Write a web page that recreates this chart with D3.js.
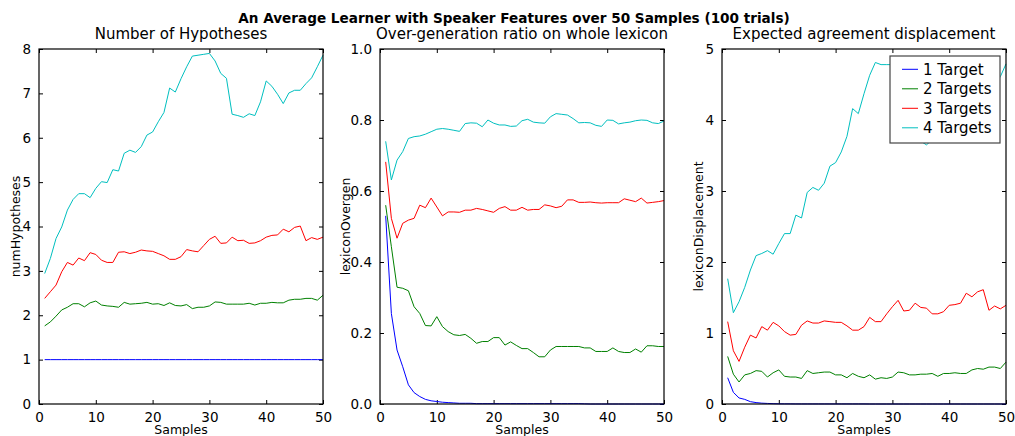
<!DOCTYPE html>
<html>
<head>
<meta charset="utf-8">
<script src="https://cdn.jsdelivr.net/npm/d3@7"></script>
<style>
  body { margin: 0; background: #fff; }
  svg { font-family: 'DejaVu Sans', sans-serif; }
</style>
</head>
<body>
<div id="chart"></div>
<script>
// sample index on the x axis
const samples = d3.range(1, 51)

const seriesNames = ['1 Target', '2 Targets', '3 Targets', '4 Targets']
const seriesColors = ['#0000ff', '#008000', '#ff0000', '#00bfbf']

// number of hypotheses
const hypT1 = new Array(50).fill(1)
const hypT2 = [1.76,1.85,1.98,2.12,2.18,2.26,2.26,2.19,2.28,2.32,2.23,2.21,2.20,2.18,2.29,2.25,2.26,2.27,2.29,2.25,
  2.26,2.22,2.28,2.22,2.21,2.24,2.15,2.18,2.18,2.21,2.30,2.29,2.25,2.25,2.25,2.25,2.27,2.23,2.27,2.27,
  2.29,2.28,2.28,2.34,2.36,2.36,2.38,2.38,2.34,2.45]
const hypT3 = [2.38,2.53,2.68,2.98,3.19,3.13,3.29,3.23,3.41,3.37,3.24,3.19,3.19,3.42,3.43,3.39,3.42,3.47,3.45,3.44,
  3.39,3.34,3.26,3.26,3.32,3.48,3.45,3.43,3.57,3.71,3.78,3.62,3.63,3.76,3.68,3.69,3.62,3.63,3.68,3.76,
  3.80,3.81,3.94,3.88,3.98,4.01,3.68,3.75,3.71,3.76]
const hypT4 = [2.94,3.28,3.73,3.99,4.37,4.61,4.74,4.74,4.65,4.86,5.01,4.99,5.28,5.25,5.65,5.72,5.67,5.80,6.06,6.13,
  6.36,6.57,7.12,7.03,7.33,7.60,7.84,7.86,7.88,7.90,7.73,7.45,7.34,6.53,6.50,6.46,6.54,6.50,6.81,7.28,
  7.16,6.98,6.77,7.01,7.07,7.07,7.22,7.35,7.60,7.86]

// over-generation ratio
const ovgT1 = [0.53,0.255,0.152,0.105,0.054,0.032,0.021,0.013,0.009,0.007,0.005,0.004,0.003,0.002,0.002,0.002,0.001,0.001,0.001,0.001,
  0.001,0.001,0.001,0.001,0.001,0.001,0.001,0.001,0.001,0.001,0.001,0.001,0.001,0.001,0.001,0.0005,0,0,0,0,
  0,0,0,0,0,0,0,0,0,0]
const ovgT2 = [0.56,0.443,0.329,0.326,0.319,0.274,0.255,0.221,0.220,0.246,0.218,0.204,0.195,0.193,0.196,0.185,0.171,0.176,0.176,0.187,
  0.187,0.166,0.175,0.165,0.156,0.156,0.145,0.133,0.133,0.152,0.162,0.162,0.162,0.162,0.162,0.158,0.158,0.148,0.148,0.148,
  0.158,0.148,0.145,0.145,0.155,0.146,0.164,0.164,0.162,0.162]
const ovgT3 = [0.682,0.523,0.467,0.509,0.518,0.523,0.560,0.553,0.580,0.555,0.530,0.541,0.541,0.540,0.546,0.546,0.551,0.548,0.544,0.540,
  0.551,0.556,0.546,0.546,0.554,0.546,0.548,0.548,0.561,0.558,0.553,0.557,0.575,0.575,0.568,0.568,0.569,0.567,0.566,0.567,
  0.567,0.567,0.578,0.574,0.570,0.580,0.566,0.568,0.570,0.573]
const ovgT4 = [0.740,0.631,0.687,0.711,0.748,0.753,0.755,0.760,0.767,0.774,0.776,0.774,0.771,0.768,0.790,0.792,0.791,0.781,0.800,0.791,
  0.786,0.786,0.782,0.783,0.798,0.802,0.794,0.792,0.791,0.809,0.818,0.816,0.814,0.804,0.792,0.793,0.792,0.785,0.782,0.800,
  0.799,0.789,0.792,0.794,0.798,0.800,0.799,0.792,0.790,0.797]

// expected agreement displacement
const dspT1 = [0.37,0.164,0.085,0.065,0.033,0.020,0.012,0.008,0.005,0.003,0.002,0.002,0.001,0.001,0.001,0.001,0.001,0.001,0.001,0.001,
  0.001,0.001,0.001,0.001,0.001,0,0,0,0,0,0,0,0,0,0,0,0,0,0,0,
  0,0,0,0,0,0,0,0,0,0]
const dspT2 = [0.67,0.42,0.31,0.41,0.43,0.47,0.46,0.38,0.44,0.48,0.39,0.38,0.38,0.36,0.47,0.43,0.44,0.45,0.45,0.41,
  0.41,0.37,0.43,0.39,0.37,0.41,0.35,0.37,0.36,0.38,0.45,0.44,0.41,0.41,0.42,0.42,0.43,0.39,0.43,0.43,
  0.44,0.43,0.43,0.48,0.50,0.49,0.52,0.52,0.50,0.59]
const dspT3 = [1.16,0.75,0.60,0.80,0.97,0.93,1.09,1.04,1.15,1.10,1.02,0.97,0.98,1.11,1.17,1.14,1.14,1.17,1.16,1.15,
  1.15,1.10,1.04,1.04,1.09,1.22,1.16,1.16,1.27,1.37,1.46,1.31,1.32,1.42,1.36,1.35,1.27,1.27,1.30,1.39,
  1.40,1.42,1.56,1.51,1.58,1.61,1.32,1.38,1.34,1.39]
const dspT4 = [1.765,1.286,1.441,1.643,1.887,2.09,2.12,2.16,2.11,2.26,2.40,2.40,2.66,2.62,2.98,3.05,3.01,3.11,3.35,3.40,
  3.55,3.77,4.16,4.09,4.37,4.63,4.81,4.78,4.78,4.78,4.75,4.60,4.50,3.80,3.70,3.65,3.72,3.75,3.95,4.35,
  4.30,4.20,4.05,4.20,4.30,4.30,4.45,4.50,4.61,4.79]

const panels = [
  { title: 'Number of Hypotheses', ylabel: 'numHypotheses', yMax: 8, yTicks: [0,1,2,3,4,5,6,7,8], fmt: d3.format('d'),
    series: [hypT1, hypT2, hypT3, hypT4], left: 39, labelOffset: -19 },
  { title: 'Over-generation ratio on whole lexicon', ylabel: 'lexiconOvergen', yMax: 1, yTicks: [0,0.2,0.4,0.6,0.8,1.0], fmt: d3.format('.1f'),
    series: [ovgT1, ovgT2, ovgT3, ovgT4], left: 380, labelOffset: -30 },
  { title: 'Expected agreement displacement', ylabel: 'lexiconDisplacement', yMax: 5, yTicks: [0,1,2,3,4,5], fmt: d3.format('d'),
    series: [dspT1, dspT2, dspT3, dspT4], left: 722, labelOffset: -19, legend: true }
]

const xTicks = [0, 10, 20, 30, 40, 50]

const W = 1015, H = 436
const plotTop = 49, plotBottom = 404, pw = 284

const svg = d3.select('#chart').append('svg')
  .attr('width', W)
  .attr('height', H)

// main title
svg.append('text')
  .attr('x', 514)
  .attr('y', 23)
  .attr('text-anchor', 'middle')
  .style('font-size', '13.6px')
  .style('font-weight', 'bold')
  .text('An Average Learner with Speaker Features over 50 Samples (100 trials)')

panels.forEach(p => {
  let g = svg.append('g').attr('transform', 'translate(' + p.left + ',' + plotTop + ')')
  let h = plotBottom - plotTop

  let x = d3.scaleLinear().domain([0, 50]).range([0, pw])
  let y = d3.scaleLinear().domain([0, p.yMax]).range([h, 0])

  // inward ticks on all four sides
  g.append('g')
    .attr('transform', 'translate(0,' + h + ')')
    .call(d3.axisBottom(x).tickValues(xTicks).tickSize(-4).tickPadding(8).tickFormat(d3.format('d')))
  g.append('g')
    .call(d3.axisTop(x).tickValues(xTicks).tickSize(-4).tickFormat(''))
  g.append('g')
    .call(d3.axisLeft(y).tickValues(p.yTicks).tickSize(-4).tickPadding(8).tickFormat(p.fmt))
  g.append('g')
    .attr('transform', 'translate(' + pw + ',0)')
    .call(d3.axisRight(y).tickValues(p.yTicks).tickSize(-4).tickFormat(''))

  g.selectAll('.domain').remove()
  g.selectAll('.tick line').attr('stroke', '#000')
  g.selectAll('.tick text')
    .style('font-family', "'DejaVu Sans', sans-serif")
    .style('font-size', '13.5px')
    .attr('fill', '#000')

  // lines
  let line = d3.line()
    .x((d, i) => x(samples[i]))
    .y(d => y(d))

  p.series.forEach((s, k) => {
    g.append('path')
      .datum(s)
      .attr('d', line)
      .attr('fill', 'none')
      .attr('stroke', seriesColors[k])
      .attr('stroke-width', 1)
  })

  // frame
  g.append('rect')
    .attr('width', pw)
    .attr('height', h)
    .attr('fill', 'none')
    .attr('stroke', '#000')
    .attr('stroke-width', 1.2)

  // subplot title
  g.append('text')
    .attr('x', pw / 2)
    .attr('y', -10)
    .attr('text-anchor', 'middle')
    .style('font-size', '15px')
    .text(p.title)

  // x label
  g.append('text')
    .attr('x', pw / 2)
    .attr('y', h + 30)
    .attr('text-anchor', 'middle')
    .style('font-size', '12.5px')
    .text('Samples')

  // y label
  g.append('text')
    .attr('transform', 'translate(' + p.labelOffset + ',' + h / 2 + ') rotate(-90)')
    .attr('text-anchor', 'middle')
    .style('font-size', '12.5px')
    .text(p.ylabel)

  if (p.legend) {
    let lg = g.append('g').attr('transform', 'translate(' + (890 - p.left) + ',' + (56 - plotTop) + ')')
    lg.append('rect')
      .attr('width', 110)
      .attr('height', 87)
      .attr('fill', '#fff')
      .attr('stroke', '#444')
      .attr('stroke-width', 1.2)
    seriesNames.forEach((name, k) => {
      let yy = 13.3 + k * 19.5
      lg.append('line')
        .attr('x1', 12).attr('x2', 28)
        .attr('y1', yy).attr('y2', yy)
        .attr('stroke', seriesColors[k])
      lg.append('text')
        .attr('x', 33)
        .attr('y', yy + 5.5)
        .style('font-size', '15px')
        .text(name)
    })
  }
})
</script>
</body>
</html>
